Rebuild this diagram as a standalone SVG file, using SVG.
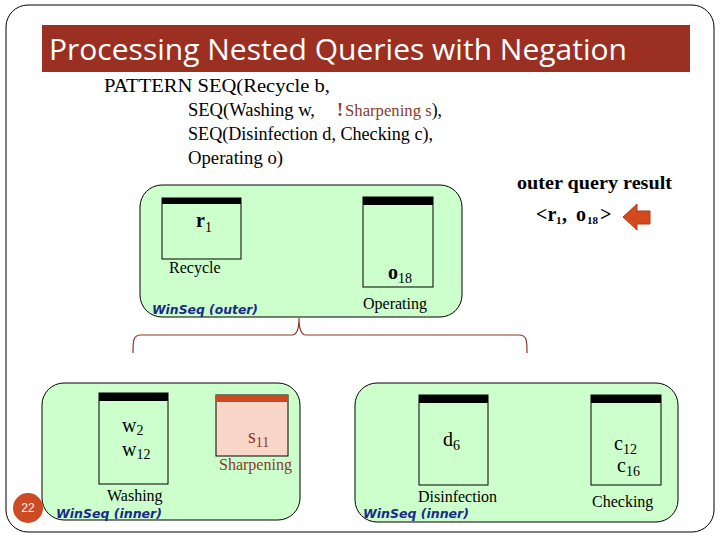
<svg xmlns="http://www.w3.org/2000/svg" width="720" height="540" viewBox="0 0 720 540">
<defs>
<style>
.frame{fill:#fff;stroke:#000;stroke-width:1}
.grp{fill:#CCFFCC;stroke:#000;stroke-width:1}
.box{fill:#CCFFCC;stroke:#000;stroke-width:1}
.bar{fill:#000}
.serif{font-family:"Liberation Serif","Times New Roman",serif;fill:#000}
.lbl{font-size:16px}
.ev{font-size:20px}
.sub{font-size:14px}
.win{font-family:"DejaVu Sans",Verdana,sans-serif;font-style:italic;font-weight:bold;font-size:13px;fill:#1a2a8a}
.neg{fill:#8B3A2A}
</style>
</defs>
<rect class="frame" x="6" y="5" width="708" height="527" rx="22" ry="22"/>
<g id="title">
<rect x="42" y="25" width="648" height="47" fill="#9B2F22"/>
<text x="49" y="60" font-family="Open Sans, Liberation Sans, sans-serif" font-size="29" fill="#fff" textLength="578" lengthAdjust="spacingAndGlyphs">Processing Nested Queries with Negation</text>
</g>
<g id="pattern" class="serif" font-size="18">
<text x="104" y="92" textLength="226" lengthAdjust="spacingAndGlyphs">PATTERN SEQ(Recycle b,</text>
<text x="188" y="116" textLength="127" lengthAdjust="spacingAndGlyphs">SEQ(Washing w,</text>
<text x="337" y="116" class="neg" font-weight="bold">!</text>
<text x="345" y="116" font-size="17" textLength="97" lengthAdjust="spacingAndGlyphs"><tspan class="neg">Sharpening s</tspan><tspan font-size="18">),</tspan></text>
<text x="188" y="140" textLength="245" lengthAdjust="spacingAndGlyphs">SEQ(Disinfection d,  Checking c),</text>
<text x="188" y="164" textLength="95" lengthAdjust="spacingAndGlyphs">Operating o)</text>
</g>
<g id="result">
<text class="serif" x="517" y="189" font-size="18" font-weight="bold" textLength="155" lengthAdjust="spacingAndGlyphs">outer query result</text>
<g class="serif" font-size="20" font-weight="bold">
<text x="536" y="221">&lt;r</text>
<text x="556" y="224" font-size="11">1</text>
<text x="562" y="221">,</text>
<text x="576" y="221">o</text>
<text x="587" y="224" font-size="11">18</text>
<text x="600" y="221">&gt;</text>
</g>
<polygon points="623,217 637,204 637,211 650,211 650,224 637,224 637,230" fill="#D24A1E" stroke="#B03A14" stroke-width="1"/>
</g>
<g id="outer">
<rect class="grp" x="140" y="185" width="322" height="132" rx="22" ry="22"/>
<text class="win" x="152" y="314" textLength="106" lengthAdjust="spacingAndGlyphs">WinSeq (outer)</text>
</g>
<g id="recycle">
<rect class="box" x="162" y="198" width="79" height="61"/>
<rect class="bar" x="162" y="198" width="79" height="6"/>
<text class="serif ev" x="196" y="227" font-weight="bold">r<tspan class="sub" font-weight="normal" dy="5">1</tspan></text>
<text class="serif lbl" x="169" y="273">Recycle</text>
</g>
<g id="operating">
<rect class="box" x="363" y="197" width="70" height="90"/>
<rect class="bar" x="363" y="197" width="70" height="8"/>
<text class="serif ev" x="388" y="279" font-weight="bold">o<tspan class="sub" font-weight="normal" dy="4">18</tspan></text>
<text class="serif lbl" x="363" y="309">Operating</text>
</g>
<g id="connectors">
<path d="M133,353 C133,341 133,335 141,335 L292,335 C297,335 299,330 299,318 C299,330 301,335 306,335 L519,335 C527,335 527,341 527,353" fill="none" stroke="#8B3A2A" stroke-width="1.2"/>
</g>
<g id="inner1">
<rect class="grp" x="42" y="383" width="258" height="137" rx="22" ry="22"/>
<text class="win" x="56" y="518" textLength="106" lengthAdjust="spacingAndGlyphs">WinSeq (inner)</text>
</g>
<g id="washing">
<rect class="box" x="99" y="393" width="69" height="91"/>
<rect class="bar" x="99" y="393" width="69" height="8"/>
<text class="serif ev" x="122" y="432">w<tspan class="sub" dy="3">2</tspan></text>
<text class="serif ev" x="122" y="456">w<tspan class="sub" dy="3">12</tspan></text>
<text class="serif lbl" x="107" y="501">Washing</text>
</g>
<g id="sharpening">
<rect x="216" y="395" width="72" height="61" fill="#F9D6C8" stroke="#000" stroke-width="1"/>
<rect x="216" y="395" width="72" height="7" fill="#CC4A1E"/>
<text class="serif ev neg" x="248" y="443">s<tspan class="sub" dy="4">11</tspan></text>
<text class="serif lbl neg" x="219" y="470">Sharpening</text>
</g>
<g id="inner2">
<rect class="grp" x="355" y="383" width="323" height="139" rx="22" ry="22"/>
<text class="win" x="363" y="518" textLength="106" lengthAdjust="spacingAndGlyphs">WinSeq (inner)</text>
</g>
<g id="disinfection">
<rect class="box" x="419" y="395" width="69" height="90"/>
<rect class="bar" x="419" y="395" width="69" height="8"/>
<text class="serif ev" x="443" y="446">d<tspan class="sub" dy="4">6</tspan></text>
<text class="serif lbl" x="418" y="502">Disinfection</text>
</g>
<g id="checking">
<rect class="box" x="591" y="395" width="70" height="90"/>
<rect class="bar" x="591" y="395" width="70" height="8"/>
<text class="serif ev" x="614" y="450">c<tspan class="sub" dy="4">12</tspan></text>
<text class="serif ev" x="617" y="472">c<tspan class="sub" dy="4">16</tspan></text>
<text class="serif lbl" x="592" y="507">Checking</text>
</g>
<g id="page">
<circle cx="28" cy="508" r="15" fill="#CC4A24"/>
<text x="28" y="512" text-anchor="middle" font-family="Liberation Sans, Arial, sans-serif" font-size="12" fill="#fff">22</text>
</g>
</svg>
